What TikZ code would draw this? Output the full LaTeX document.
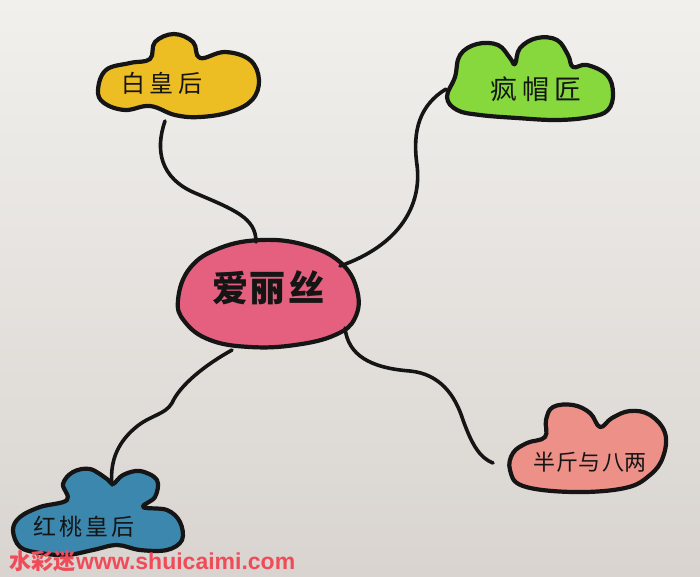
\documentclass[tikz,border=0pt]{standalone}
\usepackage{fontspec}
\newfontfamily\cjk{Noto Sans CJK SC}
\newfontfamily\wmfont{Liberation Sans}
\definecolor{paperA}{HTML}{F1F0ED}
\definecolor{paperB}{HTML}{E6E3E0}
\definecolor{paperC}{HTML}{D9D4D0}
\definecolor{yel}{HTML}{EDBE24}
\definecolor{grn}{HTML}{86D83C}
\definecolor{pnk}{HTML}{E4607E}
\definecolor{sal}{HTML}{EC9088}
\definecolor{blu}{HTML}{3B87AE}
\definecolor{wmred}{HTML}{F04B58}
\definecolor{ink}{HTML}{151515}
\newcommand\gp{\hspace{5pt}}
\begin{document}
\begin{tikzpicture}[x=1pt,y=-1pt,
  blob/.style={line width=4.2pt, line join=round, draw=ink},
  link/.style={line width=3.6pt, line cap=round, draw=ink},
  lbl/.style={font=\cjk\fontsize{24}{28}\selectfont, text=ink}]
\useasboundingbox (0,0) rectangle (700,576);
\shade[top color=paperA, middle color=paperB, bottom color=paperC] (0,0) rectangle (700,576);

% connector end points
\coordinate (wqe) at (165,121);
\coordinate (ala) at (256,242);
\coordinate (mhe) at (446,89);
\coordinate (alb) at (340,266);
\coordinate (alc) at (345,328);
\coordinate (twe) at (493,463);
\coordinate (ald) at (232,350);
\coordinate (qhe) at (112,485);

% yellow cloud
\filldraw[blob, fill=yel] plot[smooth cycle, tension=0.65] coordinates {
 (98,90) (106,70) (130,63) (150,59) (155,42) (174,34) (193,42) (200,58)
 (225,52) (250,60) (259,80) (252,100) (230,112) (200,117) (175,115)
 (150,106) (125,110) (104,103)};
\node[lbl] (wq) at (162,83) {白\gp 皇\gp 后};

% green cloud
\filldraw[blob, fill=grn] plot[smooth cycle, tension=0.65] coordinates {
 (447,97) (455,77) (460,55) (477,44) (498,45) (510,58) (515,64)
 (520,48) (537,38) (557,40) (568,55) (573,67) (587,65) (607,75)
 (613,93) (608,110) (590,117) (557,120) (517,118) (480,115) (457,110)};
\node[lbl, font=\cjk\fontsize{27}{30}\selectfont] (mh) at (536,89) {疯\gp 帽\gp 匠};

% center blob
\filldraw[blob, fill=pnk] plot[smooth cycle, tension=0.7] coordinates {
 (178,300) (190,268) (220,248) (262,240) (305,245) (340,262) (357,290)
 (355,318) (335,335) (295,345) (250,347) (210,340) (185,322)};
\node[font=\cjk\bfseries\fontsize{36}{40}\selectfont, text=ink] (al) at (268,288) {爱\hspace{2pt}丽\hspace{2pt}丝};

% salmon cloud
\filldraw[blob, fill=sal] plot[smooth cycle, tension=0.65] coordinates {
 (510,470) (523,486) (573,492) (625,488) (650,475) (663,457) (665,433)
 (650,415) (630,411) (612,418) (600,427) (590,413) (573,405) (553,407)
 (546,420) (545,437) (527,443) (513,453)};
\node[lbl, font=\cjk\fontsize{22}{26}\selectfont] (tw) at (590,462) {半\hspace{1pt}斤\hspace{1pt}与\hspace{1pt}八\hspace{1pt}两};

% blue cloud
\filldraw[blob, fill=blu] plot[smooth cycle, tension=0.6] coordinates {
 (13,530) (20,517) (40,507) (67,500) (63,484) (73,472) (90,469) (107,479)
 (113,484) (123,475) (140,471) (157,480) (155,497) (143,507) (167,510)
 (180,522) (182,540) (167,550) (140,550) (117,545) (93,550) (67,555)
 (40,553) (20,547)};
\node[lbl, font=\cjk\fontsize{23}{26}\selectfont] (qh) at (84,527) {红\hspace{3pt}桃\hspace{3pt}皇\hspace{3pt}后};

% connectors
\draw[link] (wqe) .. controls (155,150) and (160,178) .. (195,193)
  .. controls (235,210) and (256,218) .. (ala);
\draw[link] (mhe) .. controls (420,105) and (412,130) .. (417,165)
  .. controls (422,205) and (400,245) .. (alb);
\draw[link] (alc) .. controls (348,355) and (370,368) .. (410,371)
  .. controls (440,374) and (455,395) .. (463,420)
  .. controls (472,445) and (480,458) .. (twe);
\draw[link] (ald) .. controls (205,365) and (180,385) .. (172,403)
  .. controls (165,415) and (150,415) .. (135,428)
  .. controls (115,445) and (110,465) .. (qhe);

% watermark
\node[anchor=west, inner sep=0pt, text=wmred, font=\cjk\bfseries\fontsize{22}{24}\selectfont] (wm) at (9,561) {水彩迷\hspace{1pt}{\wmfont\bfseries\fontsize{23}{25}\selectfont www.shuicaimi.com}};
\end{tikzpicture}
\end{document}
